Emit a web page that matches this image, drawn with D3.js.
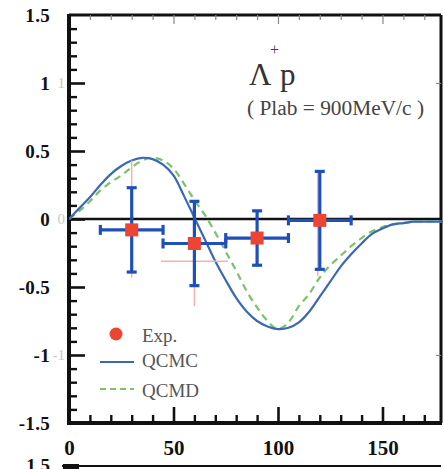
<!DOCTYPE html>
<html>
<head>
<meta charset="utf-8">
<script src="https://cdn.jsdelivr.net/npm/d3@7"></script>
<style>
  html, body { margin: 0; padding: 0; background: #fff; }
  svg { display: block; }
  text { font-family: "Liberation Serif", "Times New Roman", Times, serif; }
</style>
</head>
<body>
<svg id="chart" width="444" height="469"></svg>
<script>
// ---- data ----
const theta = [0,5,10,15,20,25,30,35,40,45,50,55,60,65,70,75,80,85,90,95,100,105,110,115,120,125,130,135,140,145,150,155,160,165,170,175,180];
const qcmc  = [0,0.08,0.16,0.25,0.33,0.39,0.43,0.45,0.44,0.40,0.32,0.17,0.01,-0.15,-0.31,-0.45,-0.58,-0.68,-0.75,-0.79,-0.81,-0.80,-0.76,-0.68,-0.57,-0.46,-0.35,-0.26,-0.18,-0.11,-0.07,-0.04,-0.03,-0.02,-0.02,-0.02,-0.02];
const qcmd  = [0,0.06,0.13,0.21,0.27,0.32,0.38,0.43,0.45,0.43,0.37,0.26,0.14,0.03,-0.10,-0.24,-0.38,-0.53,-0.65,-0.75,-0.81,-0.76,-0.64,-0.55,-0.43,-0.34,-0.27,-0.20,-0.14,-0.09,-0.06,-0.04,-0.03,-0.02,-0.02,-0.02,-0.02];

const expTheta = [30, 60, 90, 120];
const expVal   = [-0.08, -0.18, -0.14, -0.01];
const expXErr  = [15, 15, 15, 15];
const expYErr  = [0.31, 0.31, 0.20, 0.36];

// faint underlying (ghost) error bars visible in the figure
const ghostTheta = [30, 60, 119];
const ghostVal   = [0.0, -0.31, -0.03];
const ghostXErr  = [0, 16, 0];
const ghostYErr  = [0.43, 0.33, 0.39];

const yMajor = [-1.5, -1, -0.5, 0, 0.5, 1, 1.5];
const yMajorLabels = ["-1.5", "-1", "-0.5", "0", "0.5", "1", "1.5"];
const xMajor = [0, 50, 100, 150];
const xMajorLabels = ["0", "50", "100", "150"];
const legendLabels = ["Exp.", "QCMC", "QCMD"];

// ---- layout ----
const svg = d3.select("#chart");
const L = 69, R = 441, T = 15, B = 423;
const x = d3.scaleLinear().domain([0, 178]).range([L, R]);
const y = d3.scaleLinear().domain([-1.5, 1.5]).range([B, T]);

const blue = "#1f50b8", curveBlue = "#3b68b3", green = "#79c36a", red = "#ee4433", ghost = "#f4b3a6";
const serif = "'Liberation Serif','Times New Roman',Times,serif";

svg.append("defs").append("clipPath").attr("id", "clip")
  .append("rect").attr("x", L).attr("y", T).attr("width", R - L + 2).attr("height", B - T);

// ---- frame: top and right (thin) ----
svg.append("line").attr("x1", L).attr("x2", R).attr("y1", T).attr("y2", T)
  .attr("stroke", "#111").attr("stroke-width", 3);
svg.append("line").attr("x1", R).attr("x2", R).attr("y1", T).attr("y2", B)
  .attr("stroke", "#111").attr("stroke-width", 3);

// top ticks (inward, faint)
const topAx = svg.append("g").attr("transform", `translate(0,${T})`)
  .call(d3.axisTop(x).tickValues(d3.range(10, 178, 10)).tickSize(-5).tickFormat(""));
topAx.select(".domain").remove();
topAx.selectAll(".tick line").attr("stroke", "#888").attr("stroke-width", 1.2)
  .filter(d => d % 50 === 0).attr("y2", 9);

// right ticks (only ±1)
const rightAx = svg.append("g").attr("transform", `translate(${R},0)`)
  .call(d3.axisRight(y).tickValues([-1, 1]).tickSize(-5).tickFormat(""));
rightAx.select(".domain").remove();
rightAx.selectAll(".tick line").attr("stroke", "#888").attr("stroke-width", 1.2);

// ---- left axis ----
const leftMinor = svg.append("g").attr("transform", `translate(${L},0)`)
  .call(d3.axisLeft(y).tickValues(d3.range(-14, 15).map(d => d / 10).filter(d => Math.abs(d * 2 - Math.round(d * 2)) > 1e-6)).tickSize(-8).tickFormat(""));
leftMinor.select(".domain").remove();
leftMinor.selectAll(".tick line").attr("stroke", "#111").attr("stroke-width", 2.4);

const leftMajor = svg.append("g").attr("transform", `translate(${L},0)`)
  .call(d3.axisLeft(y).tickValues(yMajor).tickSize(-16).tickPadding(19)
    .tickFormat((d, i) => yMajorLabels[i]));
leftMajor.select(".domain").remove();
leftMajor.selectAll(".tick line").attr("stroke", "#111").attr("stroke-width", 2.6)
  .filter(d => Math.abs(d) === 1.5).remove();
leftMajor.selectAll(".tick text").attr("font-family", serif).attr("font-weight", "bold")
  .attr("font-size", 19).attr("fill", "#111").attr("letter-spacing", "0.3px");

// ghost numerals next to axis
const ghostNums = [[1, "1"], [0, "0"], [-1, "-1"]];
svg.selectAll(".gnum").data(ghostNums).join("text")
  .attr("x", 65).attr("y", d => y(d[0]) + 5).attr("text-anchor", "end")
  .attr("font-family", serif).attr("font-size", 15).attr("fill", "#c8c8c8")
  .text(d => d[1]);

// ---- bottom axis ----
const botMinor = svg.append("g").attr("transform", `translate(0,${B})`)
  .call(d3.axisBottom(x).tickValues(d3.range(10, 178, 10).filter(d => d % 50 !== 0)).tickSize(-8).tickFormat(""));
botMinor.select(".domain").remove();
botMinor.selectAll(".tick line").attr("stroke", "#111").attr("stroke-width", 2.4);

const botMajor = svg.append("g").attr("transform", `translate(0,${B})`)
  .call(d3.axisBottom(x).tickValues(xMajor).tickSize(-16).tickPadding(17)
    .tickFormat((d, i) => xMajorLabels[i]));
botMajor.select(".domain").remove();
botMajor.selectAll(".tick line").attr("stroke", "#111").attr("stroke-width", 2.6)
  .filter(d => d === 0).remove();
botMajor.selectAll(".tick text").attr("font-family", serif).attr("font-weight", "bold")
  .attr("font-size", 21).attr("fill", "#111");

// main thick axes
svg.append("line").attr("x1", L).attr("x2", L).attr("y1", T - 1).attr("y2", B + 2)
  .attr("stroke", "#111").attr("stroke-width", 4);
svg.append("line").attr("x1", L - 2).attr("x2", R + 1).attr("y1", B).attr("y2", B)
  .attr("stroke", "#111").attr("stroke-width", 4);

// zero line
svg.append("line").attr("x1", L).attr("x2", R).attr("y1", y(0)).attr("y2", y(0))
  .attr("stroke", "#111").attr("stroke-width", 2.5);

// ---- curves ----
const plot = svg.append("g").attr("clip-path", "url(#clip)");
const line = d3.line().x((d, i) => x(theta[i])).y(d => y(d)).curve(d3.curveCatmullRom);
plot.append("path").datum(qcmd).attr("d", line).attr("fill", "none")
  .attr("stroke", green).attr("stroke-width", 2.2).attr("stroke-dasharray", "7,5");
plot.append("path").datum(qcmc).attr("d", line).attr("fill", "none")
  .attr("stroke", curveBlue).attr("stroke-width", 2.2);

// ---- ghost error bars ----
const gG = svg.append("g").attr("stroke", ghost).attr("stroke-width", 1.5);
ghostTheta.forEach((t, i) => {
  gG.append("line").attr("x1", x(t)).attr("x2", x(t))
    .attr("y1", y(ghostVal[i] + ghostYErr[i])).attr("y2", y(ghostVal[i] - ghostYErr[i]));
  if (ghostXErr[i] > 0) {
    gG.append("line").attr("x1", x(t - ghostXErr[i])).attr("x2", x(t + ghostXErr[i]))
      .attr("y1", y(ghostVal[i])).attr("y2", y(ghostVal[i]));
  }
});

// ---- experimental error bars ----
const eG = svg.append("g").attr("stroke", blue).attr("stroke-width", 3.2);
const cap = 5;
expTheta.forEach((t, i) => {
  const cx = x(t), cy = y(expVal[i]);
  const yt = y(expVal[i] + expYErr[i]), yb = y(expVal[i] - expYErr[i]);
  const xl = x(t - expXErr[i]), xr = x(t + expXErr[i]);
  eG.append("line").attr("x1", cx).attr("x2", cx).attr("y1", yt).attr("y2", yb);
  eG.append("line").attr("x1", cx - cap).attr("x2", cx + cap).attr("y1", yt).attr("y2", yt);
  eG.append("line").attr("x1", cx - cap).attr("x2", cx + cap).attr("y1", yb).attr("y2", yb);
  eG.append("line").attr("x1", xl).attr("x2", xr).attr("y1", cy).attr("y2", cy);
  eG.append("line").attr("x1", xl).attr("x2", xl).attr("y1", cy - cap).attr("y2", cy + cap);
  eG.append("line").attr("x1", xr).attr("x2", xr).attr("y1", cy - cap).attr("y2", cy + cap);
});
svg.selectAll(".sq").data(expTheta).join("rect")
  .attr("x", (d) => x(d) - 6.5).attr("y", (d, i) => y(expVal[i]) - 6.5)
  .attr("width", 13).attr("height", 13).attr("fill", red);

// ---- annotation ----
svg.append("text").attr("x", 249).attr("y", 85).attr("font-family", serif)
  .attr("font-size", 31).attr("fill", "#333").text("Λ");
svg.append("text").attr("x", 270).attr("y", 55).attr("font-family", serif)
  .attr("font-size", 16).attr("fill", "#444").text("+");
svg.append("text").attr("x", 280).attr("y", 85).attr("font-family", serif)
  .attr("font-size", 31).attr("fill", "#333").text("p");
svg.append("text").attr("x", 247).attr("y", 115).attr("font-family", serif)
  .attr("font-size", 20).attr("fill", "#444")
  .attr("textLength", 177).attr("lengthAdjust", "spacingAndGlyphs")
  .text("( Plab = 900MeV/c )");

// ---- legend ----
svg.append("circle").attr("cx", 116).attr("cy", 334).attr("r", 6.5).attr("fill", red);
svg.append("line").attr("x1", 100).attr("x2", 134).attr("y1", 362).attr("y2", 362)
  .attr("stroke", curveBlue).attr("stroke-width", 2);
svg.append("line").attr("x1", 100).attr("x2", 134).attr("y1", 389).attr("y2", 389)
  .attr("stroke", green).attr("stroke-width", 2).attr("stroke-dasharray", "6,4");
const legY = [342, 367, 397];
svg.selectAll(".leg").data(legendLabels).join("text")
  .attr("x", 142).attr("y", (d, i) => legY[i])
  .attr("font-family", serif).attr("font-size", 19).attr("fill", "#555")
  .text(d => d);

// ---- start of next panel (cut off at bottom of the picture, as in the reference) ----
svg.append("line").attr("x1", 62).attr("x2", R).attr("y1", 466).attr("y2", 466)
  .attr("stroke", "#111").attr("stroke-width", 2);
svg.append("rect").attr("x", 63).attr("y", 464).attr("width", 16).attr("height", 6).attr("fill", "#111");
svg.append("text").attr("x", 50).attr("y", 472).attr("text-anchor", "end")
  .attr("font-family", serif).attr("font-weight", "bold").attr("font-size", 19)
  .attr("fill", "#111").text("1.5");
</script>
</body>
</html>
